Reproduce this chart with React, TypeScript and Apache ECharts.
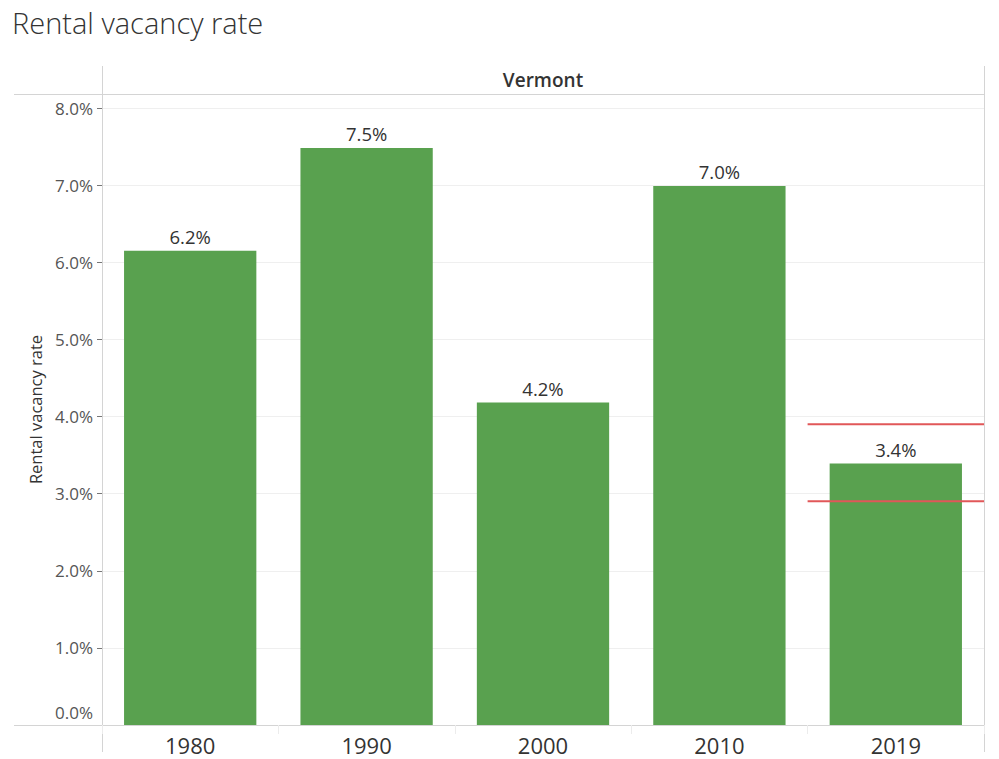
import React, { useEffect, useRef } from "react";
import * as echarts from "echarts";

const categories = ["1980", "1990", "2000", "2010", "2019"];
const vacancyRates = [6.15, 7.48, 4.18, 6.99, 3.39];
const referenceLines = [3.9, 2.9];
const yTicks = [0, 1, 2, 3, 4, 5, 6, 7, 8];
const panelTitle = "Vermont";
const chartTitle = "Rental vacancy rate";
const yAxisName = "Rental vacancy rate";

const FONT = "'Open Sans', 'Noto Sans', 'DejaVu Sans', sans-serif";

export default function App() {
  const ref = useRef<HTMLDivElement>(null);
  useEffect(() => {
    if (!ref.current) return;
    const chart = echarts.init(ref.current, null, { renderer: "svg" });
    const W = 999;
    const plotLeft = 102;
    const plotRight = 984;
    const plotTop = 108;
    const plotBottom = 725;
    const panelTop = 94;
    const lineColor = "#d4d4d4";
    const refSeries = referenceLines.map((v) => ({
      type: "line",
      xAxisIndex: 1,
      yAxisIndex: 0,
      data: [
        [categories.length - 1, v],
        [categories.length, v],
      ],
      symbol: "none",
      lineStyle: { color: "#e15759", width: 2 },
      silent: true,
      z: 5,
    }));
    chart.setOption({
      animation: false,
      backgroundColor: "#ffffff",
      textStyle: { fontFamily: FONT },
      grid: {
        left: plotLeft,
        right: W - plotRight,
        top: plotTop,
        bottom: 759 - plotBottom,
        containLabel: false,
      },
      xAxis: [
        {
          type: "category",
          data: categories,
          axisLine: { show: true, lineStyle: { color: lineColor, width: 1 } },
          axisTick: {
            show: true,
            alignWithLabel: false,
            length: 9,
            lineStyle: { color: "#ececec" },
          },
          axisLabel: {
            color: "#333",
            fontSize: 22,
            margin: 9,
            fontFamily: FONT,
          },
          splitLine: { show: false },
        },
        {
          type: "value",
          min: 0,
          max: categories.length,
          show: false,
        },
      ],
      yAxis: {
        type: "value",
        min: yTicks[0],
        max: yTicks[yTicks.length - 1],
        interval: 1,
        axisLine: { show: true, lineStyle: { color: lineColor } },
        axisTick: {
          show: true,
          length: 5,
          customValues: yTicks.filter((t) => t !== 0),
          lineStyle: { color: "#777" },
        },
        axisLabel: {
          color: "#555",
          fontSize: 17,
          margin: 9,
          fontFamily: FONT,
          formatter: (v: number) =>
            v === 0 ? "{z|" + v.toFixed(1) + "%}" : v.toFixed(1) + "%",
          rich: {
            z: {
              color: "#555",
              fontSize: 17,
              fontFamily: FONT,
              padding: [0, 0, 26, 0],
            },
          },
        },
        splitLine: { show: true, lineStyle: { color: "#efefef", width: 1 } },
      },
      series: [
        {
          type: "bar",
          data: vacancyRates,
          barWidth: "75%",
          itemStyle: { color: "#59a14f" },
          label: {
            show: true,
            position: "top",
            distance: 5,
            color: "#333",
            fontSize: 18.5,
            fontFamily: FONT,
            formatter: (p: any) => (p.value as number).toFixed(1) + "%",
          },
          z: 3,
        },
        ...refSeries,
      ],
      graphic: [
        {
          type: "text",
          x: 12,
          y: 22,
          style: {
            text: chartTitle,
            fill: "#333",
            fontSize: 29,
            fontFamily: FONT,
            fontWeight: 300,
            verticalAlign: "middle",
          },
        },
        {
          type: "text",
          x: 35,
          y: (panelTop + plotBottom) / 2,
          rotation: Math.PI / 2,
          style: {
            text: yAxisName,
            fill: "#333",
            fontSize: 16.5,
            fontFamily: FONT,
            fontWeight: 500,
            align: "center",
            verticalAlign: "middle",
          },
        },
        {
          type: "text",
          x: (plotLeft + plotRight) / 2,
          y: 80,
          style: {
            text: panelTitle,
            fill: "#333",
            fontSize: 19,
            fontWeight: 600,
            fontFamily: FONT,
            align: "center",
            verticalAlign: "middle",
          },
        },
        {
          type: "line",
          shape: { x1: 14, y1: panelTop + 0.5, x2: plotRight, y2: panelTop + 0.5 },
          style: { stroke: lineColor, lineWidth: 1 },
        },
        {
          type: "line",
          shape: { x1: 14, y1: plotBottom + 0.5, x2: plotRight, y2: plotBottom + 0.5 },
          style: { stroke: lineColor, lineWidth: 1 },
        },
        {
          type: "line",
          shape: { x1: plotLeft + 0.5, y1: 66, x2: plotLeft + 0.5, y2: 752 },
          style: { stroke: lineColor, lineWidth: 1 },
        },
        {
          type: "line",
          shape: { x1: plotRight + 0.5, y1: 66, x2: plotRight + 0.5, y2: 752 },
          style: { stroke: lineColor, lineWidth: 1 },
        },
      ],
    });
    return () => chart.dispose();
  }, []);
  return (
    <div
      ref={ref}
      style={{ position: "fixed", left: 0, top: 0, width: 999, height: 759 }}
    />
  );
}
